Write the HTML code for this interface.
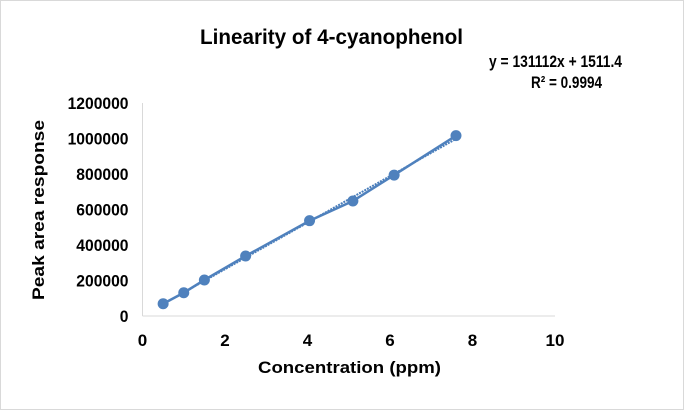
<!DOCTYPE html>
<html><head><meta charset="utf-8"><style>
body{margin:0;background:#fff;}
svg{display:block;font-family:"Liberation Sans",Arial,sans-serif;}
</style></head><body>
<svg id="chart" width="684" height="410">
<rect x="0.5" y="0.5" width="683" height="409" fill="#fff" stroke="#d9d9d9"/>
<text x="200" y="44" font-size="21" font-weight="bold" textLength="263" lengthAdjust="spacingAndGlyphs">Linearity of 4-cyanophenol</text>
<text x="489" y="67" font-size="17" font-weight="bold" textLength="133" lengthAdjust="spacingAndGlyphs">y = 131112x + 1511.4</text>
<text x="531" y="88" font-size="17" font-weight="bold" textLength="71" lengthAdjust="spacingAndGlyphs">R² = 0.9994</text>
<text x="258" y="373" font-size="17" font-weight="bold" textLength="183" lengthAdjust="spacingAndGlyphs">Concentration (ppm)</text>
<text transform="translate(44,300) rotate(-90)" font-size="17" font-weight="bold" textLength="180" lengthAdjust="spacingAndGlyphs">Peak area response</text>
<g id="axes"></g>
<g id="marks"></g>
</svg>
<script>
const xValues=[0.5,1,1.5,2.5,4.05,5.1,6.1,7.6];
const yValues=[69000,131000,203000,338000,537000,648000,794000,1016000];
const xTicks=[0,2,4,6,8,10];
const yTicks=[0,200000,400000,600000,800000,1000000,1200000];
const slope=131112, intercept=1511.4;
const X0=142.5,X1=555,Y0=316,Y1=103;
const sx=v=>X0+(v-0)/(10-0)*(X1-X0);
const sy=v=>Y0-(v/1200000)*(Y0-Y1);
const NS="http://www.w3.org/2000/svg";
const axes=document.getElementById('axes'),marks=document.getElementById('marks');
function mk(tag,attrs,parent){const e=document.createElementNS(NS,tag);for(const k in attrs)e.setAttribute(k,attrs[k]);parent.appendChild(e);return e;}
let ax=mk('line',{x1:X0,y1:Y0,x2:X1,y2:Y0,stroke:'#d9d9d9','stroke-width':1},axes);


let ay=mk('line',{x1:X0,y1:Y0,x2:X0,y2:Y1,stroke:'#d9d9d9','stroke-width':1},axes);


xTicks.forEach(t=>{const e=mk('text',{x:sx(t),y:Y0+30,'text-anchor':'middle','font-size':17,'font-weight':'bold'},axes);e.textContent=t;

});
yTicks.forEach(t=>{const e=mk('text',{x:X0-14,y:sy(t)+6,'text-anchor':'end','font-size':17,'font-weight':'bold',textLength:String(t).length*8.7,lengthAdjust:'spacingAndGlyphs'},axes);e.textContent=t;

});
const xs=xValues[0],xe=xValues[xValues.length-1];
let tl=mk('line',{x1:sx(xs),y1:sy(slope*xs+intercept),x2:sx(xe),y2:sy(slope*xe+intercept),stroke:'#4a7ebb','stroke-width':2,'stroke-dasharray':'2,1'},marks);


let pts=xValues.map((x,i)=>sx(x)+','+sy(yValues[i])).join(' ');
let pl=mk('polyline',{points:pts,fill:'none',stroke:'#4f81bd','stroke-width':2.5},marks);


xValues.forEach((x,i)=>{const c=mk('circle',{cx:sx(x),cy:sy(yValues[i]),r:5.5,fill:'#4f81bd'},marks);

});
</script>
</body></html>
